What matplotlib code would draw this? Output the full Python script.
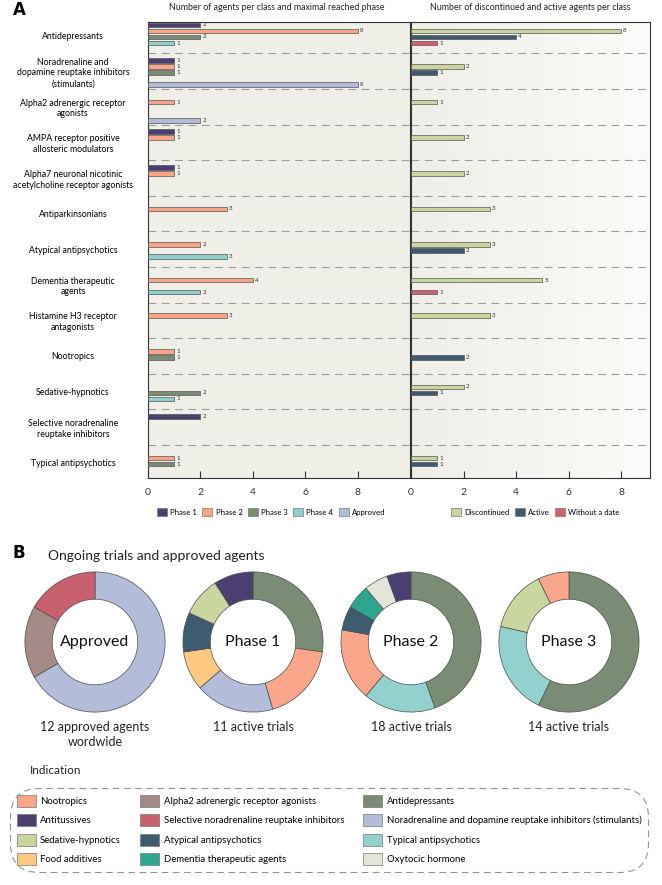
# Import libraries
import numpy as np
import matplotlib.pyplot as plt
from matplotlib.patches import Patch
from matplotlib.colors import LinearSegmentedColormap

plt.rcParams['font.family'] = ['Lato', 'DejaVu Sans']

# ---- Data: panel A ----
class_labels = [
    "Antidepressants",
    "Noradrenaline and\ndopamine reuptake inhibitors\n(stimulants)",
    "Alpha2 adrenergic receptor\nagonists",
    "AMPA receptor positive\nallosteric modulators",
    "Alpha7 neuronal nicotinic\nacetylcholine receptor agonists",
    "Antiparkinsonians",
    "Atypical antipsychotics",
    "Dementia therapeutic\nagents",
    "Histamine H3 receptor\nantagonists",
    "Nootropics",
    "Sedative-hypnotics",
    "Selective noradrenaline\nreuptake inhibitors",
    "Typical antipsychotics",
]
phase1 = [2, 1, 0, 1, 1, 0, 0, 0, 0, 0, 0, 2, 0]
phase2 = [8, 1, 1, 1, 1, 3, 2, 4, 3, 1, 0, 0, 1]
phase3 = [2, 1, 0, 0, 0, 0, 0, 0, 0, 1, 2, 0, 1]
phase4 = [1, 0, 0, 0, 0, 0, 3, 2, 0, 0, 1, 0, 0]
approved = [0, 8, 2, 0, 0, 0, 0, 0, 0, 0, 0, 0, 0]

discontinued = [8, 2, 1, 2, 2, 3, 3, 5, 3, 0, 2, 0, 1]
active = [4, 1, 0, 0, 0, 0, 2, 0, 0, 2, 1, 0, 1]
without_date = [1, 0, 0, 0, 0, 0, 0, 1, 0, 0, 0, 0, 0]

# ---- Data: panel B ----
donut_titles = ["Approved", "Phase 1", "Phase 2", "Phase 3"]
donut_captions = ["12 approved agents\nwordwide", "11 active trials",
                  "18 active trials", "14 active trials"]
approved_classes = ["Noradrenaline and dopamine reuptake inhibitors (stimulants)",
                    "Alpha2 adrenergic receptor agonists",
                    "Selective noradrenaline reuptake inhibitors"]
approved_counts = [8, 2, 2]
p1_classes = ["Antidepressants", "Nootropics",
              "Noradrenaline and dopamine reuptake inhibitors (stimulants)",
              "Food additives", "Atypical antipsychotics", "Sedative-hypnotics",
              "Antitussives"]
p1_counts = [3, 2, 2, 1, 1, 1, 1]
p2_classes = ["Antidepressants", "Typical antipsychotics", "Nootropics",
              "Atypical antipsychotics", "Dementia therapeutic agents",
              "Oxytocic hormone", "Antitussives"]
p2_counts = [8, 3, 3, 1, 1, 1, 1]
p3_classes = ["Antidepressants", "Typical antipsychotics", "Sedative-hypnotics",
              "Nootropics"]
p3_counts = [8, 3, 2, 1]

indications = ["Nootropics", "Antitussives", "Sedative-hypnotics", "Food additives",
               "Alpha2 adrenergic receptor agonists",
               "Selective noradrenaline reuptake inhibitors",
               "Atypical antipsychotics", "Dementia therapeutic agents",
               "Antidepressants",
               "Noradrenaline and dopamine reuptake inhibitors (stimulants)",
               "Typical antipsychotics", "Oxytocic hormone"]
indication_colors = ["#f9a68a", "#4b3f72", "#c9d6a0", "#fcc882",
                     "#a58b87", "#c9606e", "#3e5c70", "#2ea68d",
                     "#7b8c74", "#b3bcd8", "#93d1ce", "#e4e5d9"]
color_of = dict(zip(indications, indication_colors))

W, H = 662, 885
fig = plt.figure(figsize=(W / 100, H / 100), dpi=100)


def box(x0, y0, x1, y1):
    # pixel box (top-left origin) -> figure coords
    return [x0 / W, 1 - y1 / H, (x1 - x0) / W, (y1 - y0) / H]


# ---- Panel A ----
ax_l = fig.add_axes(box(148, 22, 410, 478))
ax_r = fig.add_axes(box(411, 22, 650, 478))

ax_l.set_facecolor("#efeee7")
grad = LinearSegmentedColormap.from_list("bg", ["#efeee7", "#fbfbf9"])
ax_r.imshow(np.linspace(0, 1, 256).reshape(1, -1), cmap=grad, aspect="auto",
            extent=(0, 1, 0, 1), transform=ax_r.transAxes, zorder=0)

y = np.arange(len(class_labels))
bar_h = 0.13


def slot(k):
    return 0.2 + 0.17 * k


left_series = [(phase1, "#4b3f72", "Phase 1"), (phase2, "#f8a487", "Phase 2"),
               (phase3, "#7b8c74", "Phase 3"), (phase4, "#8fd0cc", "Phase 4"),
               (approved, "#b2bbd7", "Approved")]
right_series = [(discontinued, "#c9d59c", "Discontinued"),
                (active, "#3d5a70", "Active"),
                (without_date, "#cc6271", "Without a date")]

for ax, series, first_slot in [(ax_l, left_series, 0), (ax_r, right_series, 1)]:
    handles = []
    for k, (vals, color, name) in enumerate(series):
        vals = np.array(vals)
        m = vals > 0
        bars = ax.barh(y[m] + slot(k + first_slot), vals[m], height=bar_h,
                       color=color, edgecolor="#555555", linewidth=0.5, zorder=3)
        ax.bar_label(bars, padding=1.5, fontsize=4.5, color="#333333")
        handles.append(Patch(facecolor=color, edgecolor="#777777", linewidth=0.5,
                             label=name))
    for b in range(1, len(class_labels)):
        ax.axhline(b, color="#9c9c9c", lw=0.8, dashes=(7, 5), zorder=2)
    ax.set_ylim(12.93, 0.12)
    ax.set_xticks([0, 2, 4, 6, 8])
    ax.tick_params(axis="x", direction="in", length=5, width=0.8, labelsize=7.5,
                   pad=7, colors="#333333")
    for s in ax.spines.values():
        s.set_color("#333333")
        s.set_linewidth(0.8)
    leg_x = 0.47 if ax is ax_l else 0.52
    ax.legend(handles=handles, loc="center", bbox_to_anchor=(leg_x, -0.075),
              ncol=len(handles), frameon=False, fontsize=5.6, handlelength=1.3,
              handleheight=1.3, handletextpad=0.4, columnspacing=0.7)

ax_l.set_xlim(0, 10)
ax_r.set_xlim(0, 9.1)
ax_l.set_yticks(y + 0.5)
ax_l.set_yticklabels(class_labels, fontsize=6.3, linespacing=1.25)
ax_l.tick_params(axis="y", length=0, pad=54)
for lab in ax_l.get_yticklabels():
    lab.set_ha("center")
    lab.set_multialignment("center")
ax_r.set_yticks([])

ax_l.set_title("Number of agents per class and maximal reached phase",
               fontsize=6.4, pad=9, color="#222222", x=0.49)
ax_r.set_title("Number of discontinued and active agents per class",
               fontsize=6.4, pad=9, color="#222222")

fig.text(13 / W, 1 - 10 / H, "A", fontsize=12, weight="bold", va="center",
         family="DejaVu Sans")

# ---- Panel B ----
fig.text(12 / W, 1 - 553 / H, "B", fontsize=12, weight="bold", va="center",
         family="DejaVu Sans")
fig.text(48 / W, 1 - 556 / H, "Ongoing trials and approved agents", fontsize=10,
         va="center", color="#222222")

donut_data = [(approved_classes, approved_counts), (p1_classes, p1_counts),
              (p2_classes, p2_counts), (p3_classes, p3_counts)]
centers_x = [95, 253, 411, 569]
for cx, (classes, counts), title, caption in zip(centers_x, donut_data,
                                                 donut_titles, donut_captions):
    ax = fig.add_axes(box(cx - 75, 642 - 75, cx + 75, 642 + 75))
    ax.pie(counts, colors=[color_of[c] for c in classes], startangle=90,
           counterclock=False, radius=1,
           wedgeprops=dict(width=0.39, edgecolor="#4d4d4d", linewidth=0.5))
    ax.set_xlim(-1.07, 1.07)
    ax.set_ylim(-1.07, 1.07)
    ax.text(0, 0, title, ha="center", va="center", fontsize=11.5, color="#111111")
    ax.text(0, -1.13, caption, ha="center", va="top", fontsize=9,
            linespacing=1.25, color="#222222", clip_on=False)
    ax.axis("off")

fig.text(30 / W, 1 - 771 / H, "Indication", fontsize=8.5, va="center",
         color="#222222")
ind_handles = [Patch(facecolor=c, edgecolor="#777777", linewidth=0.5, label=n)
               for n, c in zip(indications, indication_colors)]
leg = fig.legend(handles=ind_handles, loc="upper left",
                 bbox_to_anchor=(5 / W, 1 - 783 / H), ncol=3, fontsize=6.9,
                 handlelength=2.0, handleheight=1.6, labelspacing=0.75,
                 columnspacing=2.0, handletextpad=0.45, borderpad=0.7,
                 frameon=True, fancybox=True)
frame = leg.get_frame()
frame.set_linestyle((0, (6, 4)))
frame.set_edgecolor("#777777")
frame.set_facecolor("none")
frame.set_linewidth(0.8)
frame.set_boxstyle("round,pad=0,rounding_size=3")

fig.savefig("out.png", dpi=100)
